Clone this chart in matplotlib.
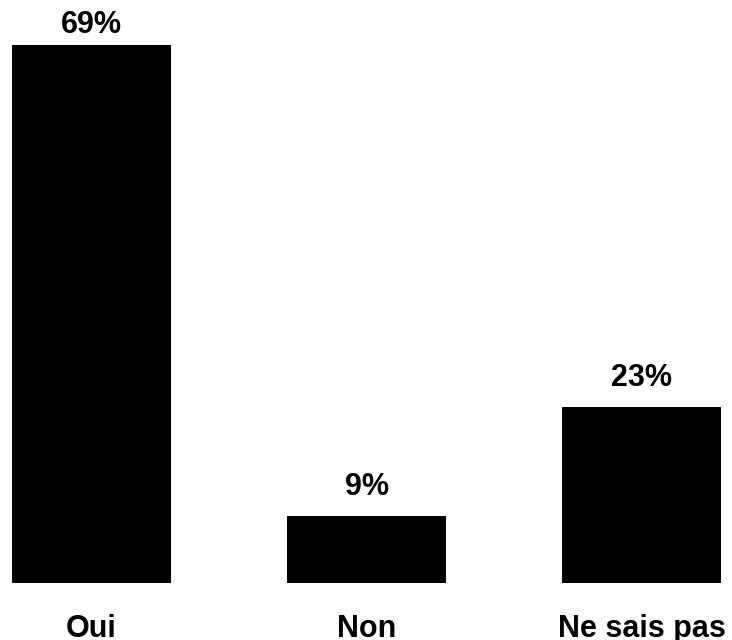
import matplotlib
matplotlib.use("Agg")
import matplotlib.pyplot as plt

categories = ["Oui", "Non", "Ne sais pas"]
values = [69, 8.6, 22.6]
value_labels = ["69%", "9%", "23%"]

plt.rcParams['font.family'] = ['Liberation Sans', 'DejaVu Sans']

fig = plt.figure(figsize=(7.32, 6.4), dpi=100)
# axes placed so bars land where the reference has them
ax = fig.add_axes([0.0, 57 / 640, 1.0, 583 / 640])

x = list(range(len(categories)))
bars = ax.bar(x, values, width=0.58, color="black")

ax.set_xlim(-91.5 / 275, (732 - 91.5) / 275)
ymax = 583 / (538 / 69)
ax.set_ylim(0, ymax)

for b, lab in zip(bars, value_labels):
    cx = b.get_x() + b.get_width() / 2
    h = b.get_height()
    if h > ymax - 6:
        # no room above the tallest bar: pin its label to the top edge
        ax.annotate(lab, (cx, ymax), xytext=(0, -7), textcoords="offset points",
                    ha="center", va="top", fontsize=22, fontweight="bold")
    else:
        ax.annotate(lab, (cx, h), xytext=(0, 10), textcoords="offset points",
                    ha="center", va="bottom", fontsize=22, fontweight="bold")

ax.set_xticks(x)
ax.set_xticklabels(categories, fontsize=22, fontweight="bold")
ax.tick_params(axis="x", length=0, pad=22)
ax.set_yticks([])
for s in ax.spines.values():
    s.set_visible(False)

fig.savefig("out.png", dpi=100)
